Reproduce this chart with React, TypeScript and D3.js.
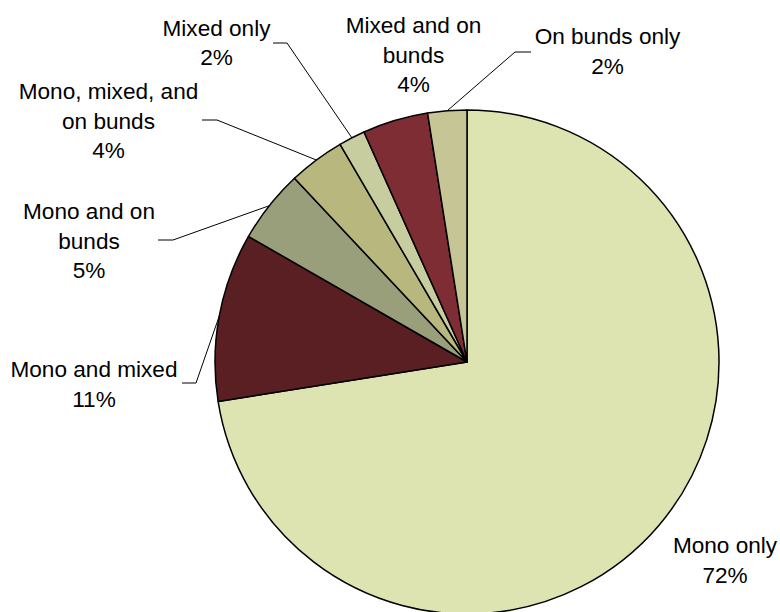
import React from "react";
import * as d3 from "d3";

const categories = [
  "Mono only",
  "Mono and mixed",
  "Mono and on bunds",
  "Mono, mixed, and on bunds",
  "Mixed only",
  "Mixed and on bunds",
  "On bunds only",
];
const values = [72.5, 10.8, 4.7, 3.6, 1.7, 4.2, 2.5];
const colors = ["#DEE4B1", "#5A1F22", "#999E7B", "#B7B77E", "#C8CD9F", "#7F2D34", "#C5C595"];

// label layout: lines, center x, first baseline
const labelLines = [
  ["Mono only", "72%"],
  ["Mono and mixed", "11%"],
  ["Mono and on", "bunds", "5%"],
  ["Mono, mixed, and", "on bunds", "4%"],
  ["Mixed only", "2%"],
  ["Mixed and on", "bunds", "4%"],
  ["On bunds only", "2%"],
];
const labelPos: [number, number][] = [
  [725, 553],
  [94, 377],
  [89, 219],
  [108.5, 99],
  [216.5, 35.5],
  [413.5, 33],
  [607.5, 44],
];
// leader: [labelSideX, labelSideY, elbowX] or null
const leaders: ([number, number, number] | null)[] = [
  null,
  [182, 383, 196],
  [158, 240, 173],
  [202, 120, 217],
  [273, 43, 287],
  null,
  [531, 52, 515],
];

export default function App() {
  const W = 780, H = 612;
  const cx = 467, cy = 362, r = 252;
  const pie = d3.pie<number>().sort(null).value((d) => d)(values);
  const arc = d3.arc<d3.PieArcDatum<number>>().innerRadius(0).outerRadius(r);
  const edgeArc = d3.arc<d3.PieArcDatum<number>>().innerRadius(r).outerRadius(r);

  return (
    <svg width={W} height={H} style={{ position: "absolute", left: 0, top: 0, background: "#fff" }}
      fontFamily="Liberation Sans, Arial, sans-serif">
      <g transform={`translate(${cx},${cy})`}>
        {pie.map((p, i) => (
          <path key={categories[i]} d={arc(p) || ""} fill={colors[i]} stroke="#000" strokeWidth={1.5} strokeLinejoin="round" />
        ))}
      </g>
      {pie.map((p, i) => {
        const l = leaders[i];
        if (!l) return null;
        const [ex, ey] = edgeArc.centroid(p);
        return (
          <polyline key={"l" + i}
            points={`${l[0]},${l[1]} ${l[2]},${l[1]} ${cx + ex},${cy + ey}`}
            fill="none" stroke="#000" strokeWidth={1} />
        );
      })}
      {labelLines.map((lines, i) => (
        <text key={"t" + i} x={labelPos[i][0]} y={labelPos[i][1]} textAnchor="middle" fontSize={22.6} fill="#000">
          {lines.map((s, j) => (
            <tspan key={j} x={labelPos[i][0]} dy={j === 0 ? 0 : 29.5}>{s}</tspan>
          ))}
        </text>
      ))}
    </svg>
  );
}
